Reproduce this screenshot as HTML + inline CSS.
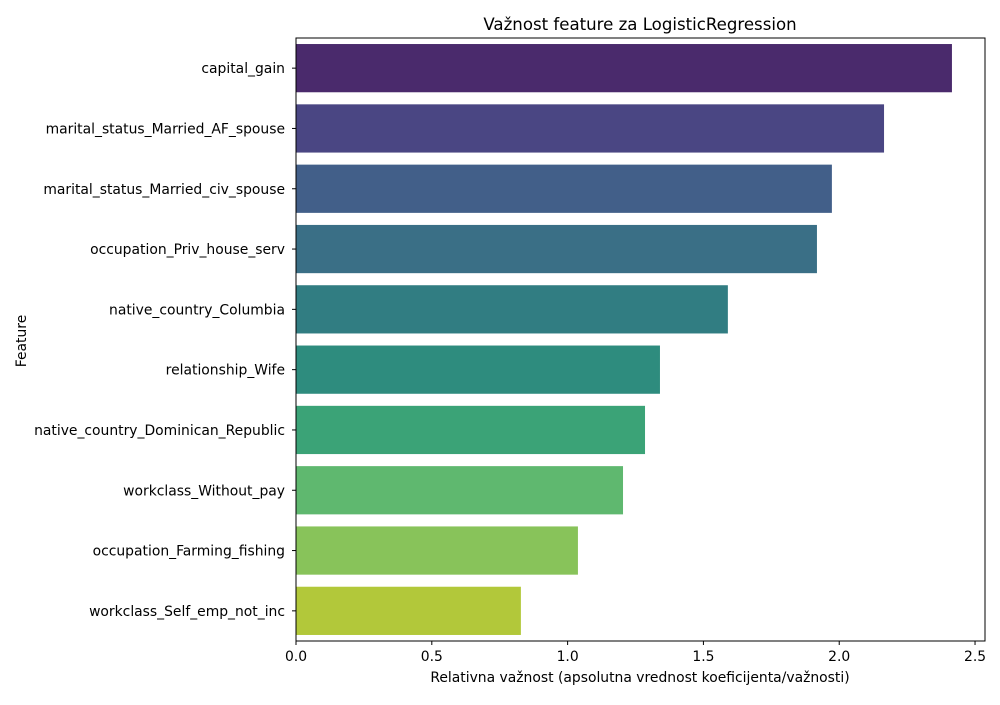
<!DOCTYPE html>
<html><head><meta charset="utf-8"><style>
body{margin:0;background:#fff;font-family:"Liberation Sans","DejaVu Sans",sans-serif;}
svg text{font-family:"DejaVu Sans","Liberation Sans",sans-serif;fill:#000;}
</style></head><body>
<svg id="chart" width="1000" height="700" xmlns="http://www.w3.org/2000/svg">
<text x="640" y="30" text-anchor="middle" font-size="16.6">Važnost feature za LogisticRegression</text>
<text x="640" y="682" text-anchor="middle" font-size="13.9">Relativna važnost (apsolutna vrednost koeficijenta/važnosti)</text>
<text x="26" y="341" text-anchor="middle" font-size="13.9" transform="rotate(-90 26 341)">Feature</text>
<g id="bars"></g><g id="yt"></g><g id="xt"></g>
<rect x="296" y="38" width="689" height="603" fill="none" stroke="#000" stroke-width="1"/>
</svg>
<script>
const categories=["capital_gain","marital_status_Married_AF_spouse","marital_status_Married_civ_spouse","occupation_Priv_house_serv","native_country_Columbia","relationship_Wife","native_country_Dominican_Republic","workclass_Without_pay","occupation_Farming_fishing","workclass_Self_emp_not_inc"];
const values=[2.415,2.165,1.973,1.918,1.59,1.34,1.285,1.204,1.038,0.828];
const xTicks=[0,0.5,1.0,1.5,2.0,2.5];
const xTickLabels=["0.0","0.5","1.0","1.5","2.0","2.5"];
const colors=["#4a2a6c","#4a4683","#425f89","#3a6f86","#317d82","#2e8c7e","#3ba377","#5fb86f","#88c35a","#b2c83a"];
const NS="http://www.w3.org/2000/svg";
const L=296,R=985,T=38,B=641,xMax=2.5367;
const xs=v=>L+v/xMax*(R-L);
const band=(B-T)/categories.length;
const ys=i=>T+band*i;
function mk(t,a,p){const e=document.createElementNS(NS,t);for(const k in a)e.setAttribute(k,a[k]);p.appendChild(e);return e;}
const bars=document.getElementById('bars'),yt=document.getElementById('yt'),xt=document.getElementById('xt');
categories.forEach((c,i)=>{
 const r=mk('rect',{x:L,y:ys(i)+band*0.1,width:xs(values[i])-L,height:band*0.8,fill:colors[i]},bars);
 
 
 const cy=ys(i)+band/2;
 const tk=mk('line',{x1:L-4,x2:L,y1:cy,y2:cy,stroke:'#000'},yt);
 
 
 const t=mk('text',{x:L-11,y:cy+5,'text-anchor':'end','font-size':'13.9'},yt);t.textContent=c;
 
 
});
xTicks.forEach((v,i)=>{
 const x=xs(v);
 const tk=mk('line',{x1:x,x2:x,y1:B,y2:B+4,stroke:'#000'},xt);
 
 
 const t=mk('text',{x:x,y:B+20,'text-anchor':'middle','font-size':'13.9'},xt);t.textContent=xTickLabels[i];
 
 
});
</script>
</body></html>
